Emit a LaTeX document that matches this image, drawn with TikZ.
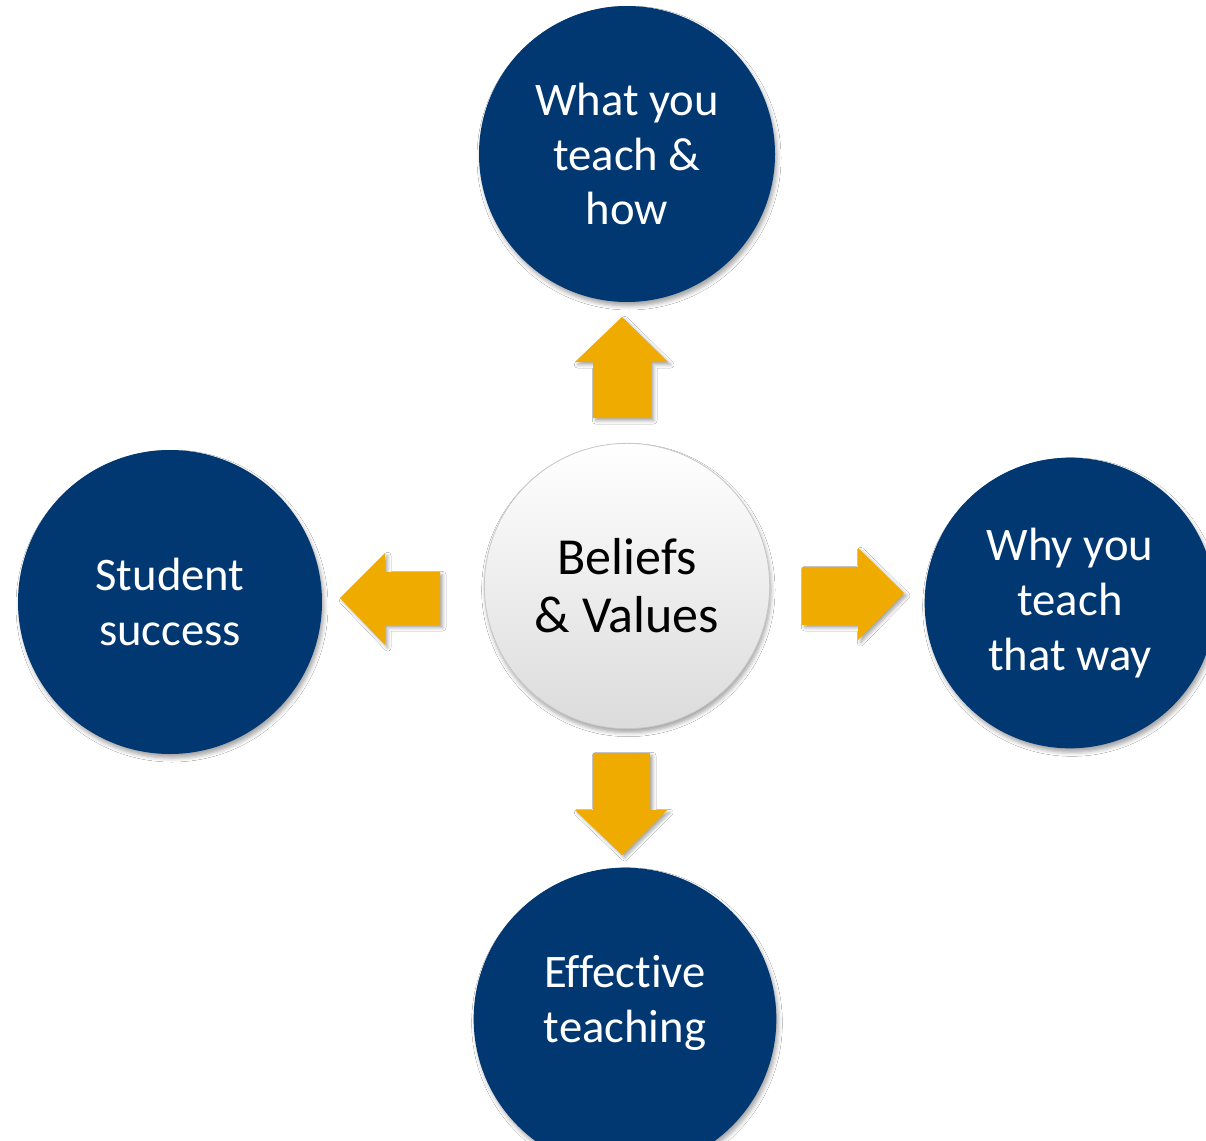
\documentclass[tikz,border=0pt]{standalone}
\usepackage{fontspec}
\setmainfont[Ligatures=NoCommon]{Carlito}
\usetikzlibrary{shadows.blur}
\definecolor{navy}{RGB}{2,56,114}
\definecolor{gold}{RGB}{240,171,0}
\tikzset{
  bluecirc/.style={circle, fill=navy, inner sep=0pt, text=white, align=center,
    font=\fontsize{35}{41}\selectfont,
    blur shadow={shadow xshift=1.5pt, shadow yshift=-3pt, shadow blur radius=3pt, shadow opacity=35}},
  bluetext/.style={text=white, align=center, font=\fontsize{35}{41}\selectfont, inner sep=0pt},
  centercirc/.style={circle, top color=white, bottom color=black!14, draw=black!22, line width=0.6pt,
    inner sep=0pt, align=center, font=\fontsize{39}{43.5}\selectfont, text=black,
    blur shadow={shadow xshift=1pt, shadow yshift=-3pt, shadow blur radius=3pt, shadow opacity=35}},
  blockarrow/.style={fill=gold,
    blur shadow={shadow xshift=2pt, shadow yshift=-2pt, shadow blur radius=2.5pt, shadow opacity=35}}
}
\begin{document}
\begin{tikzpicture}[x=0.75pt,y=-0.75pt]
\useasboundingbox (0,0) rectangle (1206,1141);
\fill[white] (0,0) rectangle (1206,1141);
\begin{scope}
\clip (0,0) rectangle (1206,1141);
% circles
\node[bluecirc, minimum size=222pt] (top) at (627,154) {What you\\teach \&\\how};
\node[bluecirc, minimum size=228pt] (left) at (170,602) {Student\\success};
\node[bluecirc, minimum size=218pt] (right) at (1070,603) {Why you\\teach\\that way};
\node[bluecirc, minimum size=227pt] (bottom) at (625,1019) {};
\node[bluetext] (bottomtext) at (625,1003) {Effective\\teaching};
\node[centercirc, minimum size=214pt] (center) at (627,586) {Beliefs\\\& Values};
% block arrows
\fill[blockarrow] (622,317) -- (668,362) -- (651,362) -- (651,418) -- (593,418) -- (593,362) -- (575,362) -- cycle;
\fill[blockarrow] (340,598) -- (385,553) -- (385,572) -- (440,572) -- (440,625) -- (385,625) -- (385,645) -- cycle;
\fill[blockarrow] (904,593) -- (858,548) -- (858,567) -- (802,567) -- (802,625) -- (858,625) -- (858,640) -- cycle;
\fill[blockarrow] (622,855) -- (667,810) -- (650,810) -- (650,753) -- (593,753) -- (593,810) -- (575,810) -- cycle;
\end{scope}
\end{tikzpicture}
\end{document}
